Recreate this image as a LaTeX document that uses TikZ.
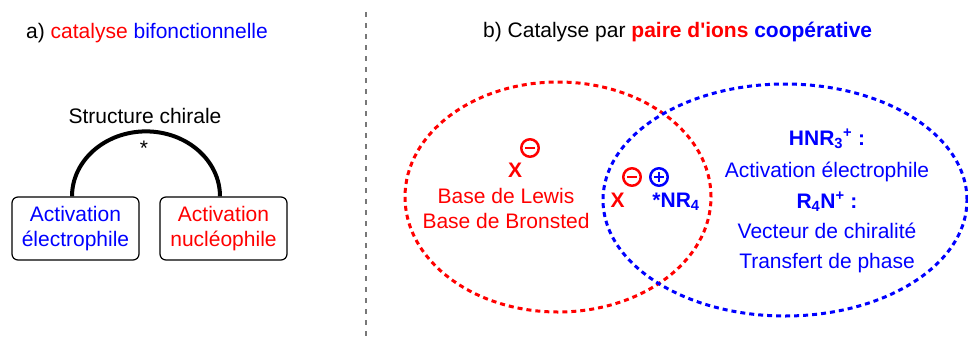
\documentclass[tikz,border=0pt]{standalone}
\usepackage{fontspec}
\setmainfont{Liberation Sans}
\definecolor{ionred}{RGB}{255,0,0}
\definecolor{ionblue}{RGB}{0,0,255}
\definecolor{sepgray}{RGB}{120,120,120}

\begin{document}
\begin{tikzpicture}[x=1pt,y=-1pt,line join=round,
  every node/.style={inner sep=0pt,font=\fontsize{21}{24.5}\selectfont},
  lbl/.style={anchor=base},
  boldlbl/.style={anchor=base,font=\fontsize{21}{24.5}\selectfont\bfseries},
  actbox/.style={draw,line width=1.2pt,rounded corners=6pt,minimum width=127pt,minimum height=63pt,align=center},
  zone/.style={line width=3pt,dash pattern=on 5pt off 4pt},
  anion/.style={circle,draw=ionred,line width=2.5pt,minimum size=17.5pt,
    path picture={\draw[ionred,line width=2.8pt] ([xshift=-5pt]path picture bounding box.center) -- ([xshift=5pt]path picture bounding box.center);}},
  cation/.style={circle,draw=ionblue,line width=2.5pt,minimum size=17.5pt,
    path picture={\draw[ionblue,line width=2.8pt] ([xshift=-5pt]path picture bounding box.center) -- ([xshift=5pt]path picture bounding box.center)
      ([yshift=-5pt]path picture bounding box.center) -- ([yshift=5pt]path picture bounding box.center);}}]
  \useasboundingbox (0,0) rectangle (968,338);
  % a) catalyse bifonctionnelle
  \node[lbl,anchor=base west] (titA) at (26,38) {a) \textcolor{ionred}{catalyse} \textcolor{ionblue}{bifonctionnelle}};
  \node[actbox,text=ionblue] (elec) at (75.5,228.5) {Activation\\électrophile};
  \node[actbox,text=ionred] (nucl) at (223.5,228.5) {Activation\\nucléophile};
  \draw[line width=4pt] ([xshift=-3.5pt]elec.north) arc[start angle=180,end angle=0,x radius=74pt,y radius=65pt];
  \node[lbl] (chir) at (145,123) {Structure chirale};
  \node[lbl] (star) at (144,155) {*};
  % separation
  \draw[sepgray,line width=2.8pt,dash pattern=on 5pt off 6pt] (366,12) -- (366,338);
  % b) paire d'ions
  \node[lbl,anchor=base west] (titB) at (483,37) {b) Catalyse par \textcolor{ionred}{\textbf{paire d\textquotesingle ions}} \textcolor{ionblue}{\textbf{coopérative}}};
  \draw[zone,ionred] (558,197) ellipse[x radius=153pt,y radius=115pt];
  \draw[zone,ionblue] (785,200) ellipse[x radius=182pt,y radius=116pt];
  % base
  \node[boldlbl,text=ionred] (xa) at (515,177) {X};
  \node[anion] (xam) at (530,148) {};
  \node[lbl,text=ionred] (lewis) at (506,203) {Base de Lewis};
  \node[lbl,text=ionred] (bron) at (506,228) {Base de Bronsted};
  % paire d'ions
  \node[boldlbl,text=ionred] (xb) at (617.5,207) {X};
  \node[anion] (xbm) at (632,177) {};
  \node[cation] (nrp) at (659,177) {};
  \node[boldlbl,text=ionblue] (nr) at (676,207) {*NR\textsubscript{4}};
  % ammonium
  \node[boldlbl,text=ionblue] (hnr) at (827,145) {HNR\textsubscript{3}\textsuperscript{+} :};
  \node[lbl,text=ionblue] (acte) at (827,177) {Activation électrophile};
  \node[boldlbl,text=ionblue] (rn) at (827,208) {R\textsubscript{4}N\textsuperscript{+} :};
  \node[lbl,text=ionblue] (vect) at (827,238) {Vecteur de chiralité};
  \node[lbl,text=ionblue] (transf) at (827,268) {Transfert de phase};
\end{tikzpicture}
\end{document}
